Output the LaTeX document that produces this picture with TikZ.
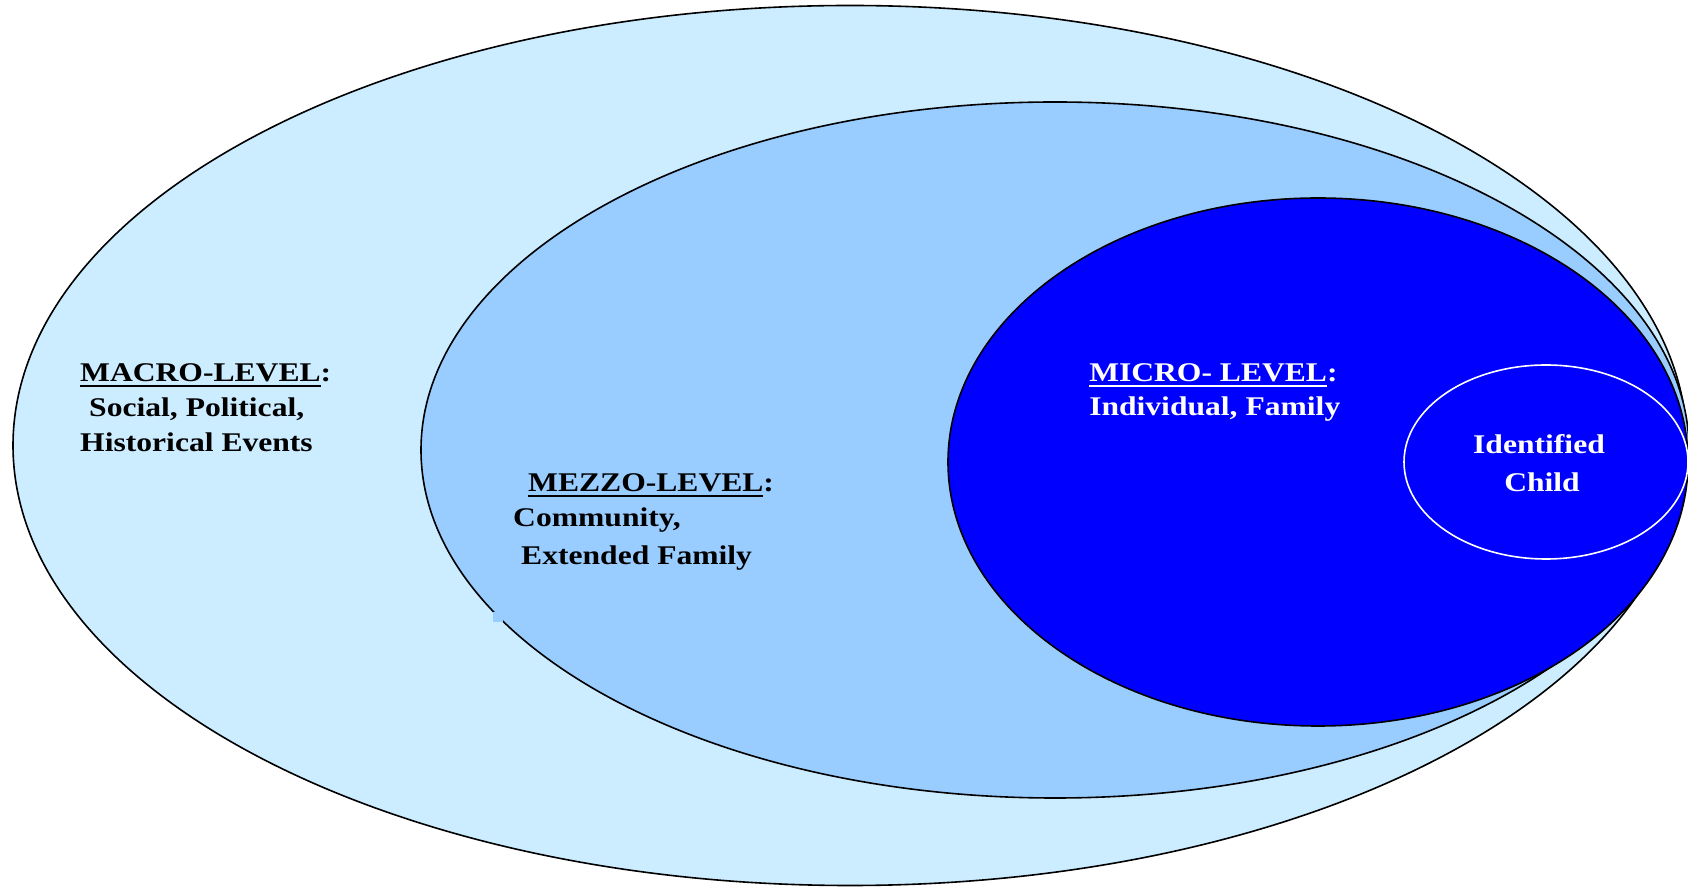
\documentclass[tikz,border=0pt]{standalone}
\usepackage{fontspec}
\setmainfont{Liberation Serif}
\usepackage{tikz}

\definecolor{macroblue}{HTML}{CCECFF}
\definecolor{mezzoblue}{HTML}{99CCFF}
\definecolor{microblue}{HTML}{0000FF}

% underline that stops before the colon
\newcommand{\levelul}[1]{\setbox0\hbox{#1}\rlap{\rule[-5.5pt]{\wd0}{2.6pt}}\box0}

\tikzset{
  lvltext/.style={inner sep=0pt, anchor=base west, xscale=1.17,
    font=\fontsize{27}{32}\selectfont\bfseries},
}

\begin{document}
\begin{tikzpicture}[x=1pt,y=1pt]
                \useasboundingbox (0,0) rectangle (1688,886);
                \draw [line width=1.6pt, fill=macroblue] (850,440.5) ellipse [x radius=837, y radius=440];
                \draw [line width=1.6pt, fill=mezzoblue] (1055,436) ellipse [x radius=634, y radius=348];
                \path [fill=mezzoblue] (493,264) rectangle (503,274);
                \draw [line width=1.6pt, fill=microblue] (1318,424) ellipse [x radius=370, y radius=264];
                \draw [line width=1.6pt, white] (1546,424) ellipse [x radius=142, y radius=97];
                \node [lvltext] (macro1) at (80,504) {\levelul{MACRO-LEVEL}:};
                \node [lvltext] (macro2) at (89,469) {Social, Political,};
                \node [lvltext] (macro3) at (80,434) {Historical Events};
                \node [lvltext] (mezzo1) at (528,394) {\levelul{MEZZO-LEVEL}:};
                \node [lvltext] (mezzo2) at (513,359) {Community,};
                \node [lvltext] (mezzo3) at (521,321) {Extended Family};
                \node [lvltext, white] (micro1) at (1089,504) {\levelul{MICRO- LEVEL}:};
                \node [lvltext, white] (micro2) at (1089,470) {Individual, Family};
                \node [lvltext, white, anchor=base] (child1) at (1539,432) {Identified};
                \node [lvltext, white, anchor=base] (child2) at (1542,394) {Child};
            \end{tikzpicture}
\end{document}
